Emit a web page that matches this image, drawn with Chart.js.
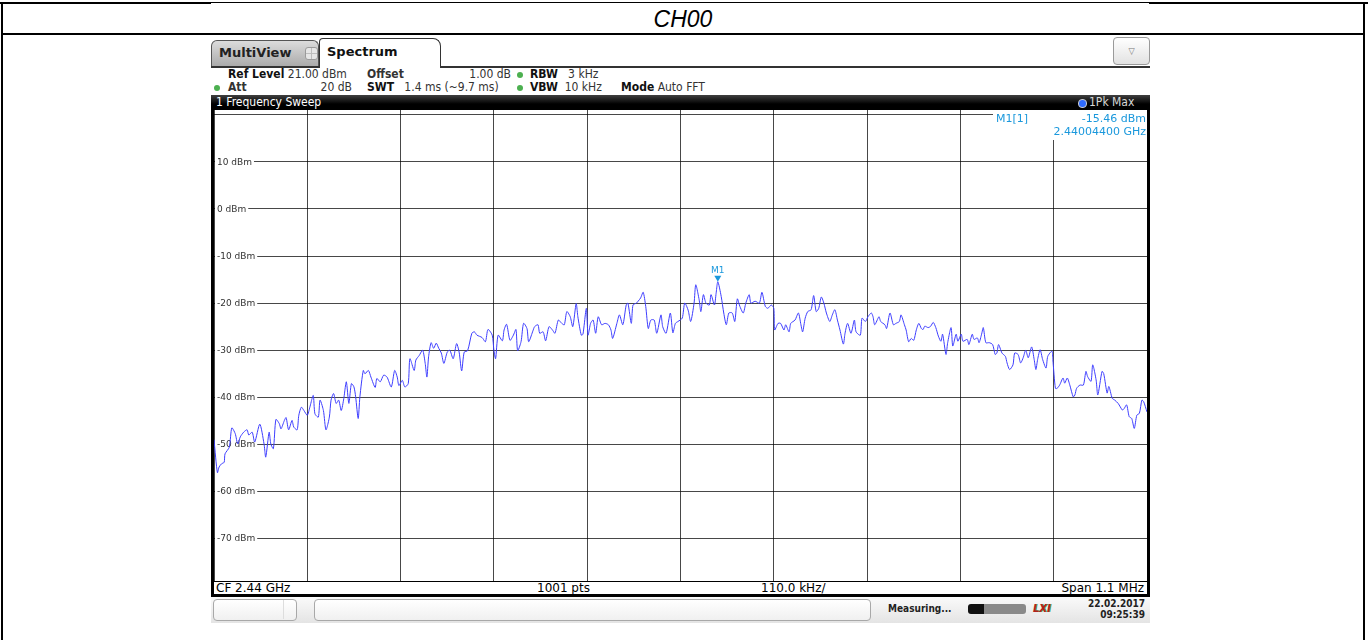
<!DOCTYPE html>
<html>
<head>
<meta charset="utf-8">
<script src="https://cdn.jsdelivr.net/npm/chart.js@4.4.1/dist/chart.umd.min.js"></script>
<style>
  body { margin: 0; background: #fff; }
  #page { position: relative; width: 1368px; height: 640px; overflow: hidden; font-family: 'DejaVu Sans Condensed', 'DejaVu Sans', sans-serif; color: #222; }
  .a { position: absolute; }
  .b { font-weight: bold; }
  .info { font-size: 12px; line-height: 13px; white-space: nowrap; color: #333; }
  .info .b { color: #111; }
  .dot { width: 6px; height: 6px; border-radius: 3px; background: #4cb050; }
  .foot { font-family: 'DejaVu Sans', sans-serif; font-size: 12px; line-height: 14px; color: #000; }
  #chart { position: absolute; left: 0; top: 0; z-index: 2; pointer-events: none; }
</style>
</head>
<body>
<div id="page">
  <!-- table frame round the screenshot -->
  <div class="a" style="left:0;top:2px;width:1368px;height:1px;background:#000"></div>
  <div class="a" style="left:0;top:2px;width:211px;height:2px;background:#000"></div>
  <div class="a" style="left:1149px;top:2px;width:219px;height:2px;background:#000"></div>
  <div class="a" style="left:1px;top:2px;width:2px;height:640px;background:#000"></div>
  <div class="a" style="left:1363px;top:2px;width:2px;height:640px;background:#000"></div>
  <div class="a" style="left:1px;top:33px;width:1364px;height:2px;background:#000"></div>
  <div class="a" style="left:0;top:5px;width:1366px;height:28px;line-height:28px;text-align:center;font-family:'Liberation Sans',Arial,sans-serif;font-style:italic;font-size:23px;color:#000">CH00</div>

  <!-- tabs -->
  <div class="a" style="left:211px;top:40px;width:106px;height:26px;background:linear-gradient(#dcdcdc,#a9a9a9);border:1px solid #555;border-bottom:none;border-radius:6px 6px 0 0"></div>
  <div class="a b" style="left:219px;top:45px;font-family:'DejaVu Sans',sans-serif;font-size:13px;color:#222">MultiView</div>
  <div class="a" style="left:305px;top:47px;width:11px;height:11px;border-radius:3px;background:linear-gradient(90deg,transparent 45%,#bdbdbd 45%,#bdbdbd 55%,transparent 55%),linear-gradient(transparent 45%,#bdbdbd 45%,#bdbdbd 55%,transparent 55%),#e6e6e6;border:1px solid #9a9a9a"></div>
  <div class="a" style="left:319px;top:38px;width:120px;height:29px;background:#fff;border:1px solid #333;border-bottom:none;border-radius:4px 8px 0 0"></div>
  <div class="a b" style="left:327px;top:44px;font-family:'DejaVu Sans',sans-serif;font-size:13px;color:#111">Spectrum</div>
  <div class="a" style="left:211px;top:66px;width:108px;height:2px;background:#333"></div>
  <div class="a" style="left:440px;top:66px;width:710px;height:2px;background:#333"></div>
  <div class="a" style="left:1113px;top:37px;width:35px;height:26px;border:1px solid #9a9a9a;border-radius:4px;background:linear-gradient(#ffffff,#e2e2e2);text-align:center;line-height:26px;font-size:9px;color:#777">&#9661;</div>

  <!-- setting lines -->
  <div class="a info" style="left:228px;top:68px"><span class="b">Ref Level</span> 21.00 dBm</div>
  <div class="a info b" style="left:367px;top:68px">Offset</div>
  <div class="a info" style="left:455px;top:68px;width:56px;text-align:right">1.00 dB</div>
  <div class="a dot" style="left:517px;top:72px"></div>
  <div class="a info" style="left:530px;top:68px"><span class="b">RBW</span>&nbsp;&nbsp;&nbsp;3 kHz</div>
  <div class="a dot" style="left:214px;top:85px"></div>
  <div class="a info b" style="left:228px;top:81px">Att</div>
  <div class="a info" style="left:300px;top:81px;width:52px;text-align:right">20 dB</div>
  <div class="a info" style="left:367px;top:81px"><span class="b">SWT</span>&nbsp;&nbsp;&nbsp;1.4 ms (~9.7 ms)</div>
  <div class="a dot" style="left:517px;top:85px"></div>
  <div class="a info" style="left:530px;top:81px"><span class="b">VBW</span>&nbsp;&nbsp;10 kHz</div>
  <div class="a info" style="left:621px;top:81px"><span class="b">Mode</span> Auto FFT</div>

  <!-- window title bar -->
  <div class="a" style="left:211px;top:95px;width:939px;height:15px;background:linear-gradient(#404040,#000 60%)"></div>
  <div class="a" style="left:216px;top:95px;font-size:12px;line-height:15px;color:#fff">1 Frequency Sweep</div>
  <div class="a" style="left:1078px;top:99px;width:7px;height:7px;border-radius:4px;background:#2f6bff;border:1px solid #ccc"></div>
  <div class="a" style="left:1089px;top:95px;font-size:12px;line-height:15px;color:#d8d8d8">1Pk Max</div>

  <!-- diagram frame -->
  <div class="a" style="left:211px;top:109px;width:3px;height:488px;background:#000"></div>
  <div class="a" style="left:1147px;top:109px;width:3px;height:488px;background:#000"></div>
  <div class="a" style="left:214px;top:581px;width:933px;height:1px;background:#000"></div>
  <div class="a" style="left:211px;top:594px;width:939px;height:3px;background:#000"></div>
  <div id="cfLabel" class="a foot" style="left:216px;top:581px"></div>
  <div id="ptsLabel" class="a foot" style="left:537px;top:581px"></div>
  <div id="divLabel" class="a foot" style="left:761px;top:581px"></div>
  <div id="spanLabel" class="a foot" style="left:1000px;top:581px;width:144px;text-align:right"></div>

  <!-- status bar -->
  <div class="a" style="left:211px;top:597px;width:939px;height:26px;background:linear-gradient(#fafafa,#e4e4e4)"></div>
  <div class="a" style="left:213px;top:599px;width:82px;height:20px;border:1px solid #a8a8a8;border-radius:4px;background:linear-gradient(#fff,#f0f0f0)"></div>
  <div class="a" style="left:283px;top:600px;width:1px;height:19px;background:#ddd"></div>
  <div class="a" style="left:314px;top:599px;width:555px;height:20px;border:1px solid #a8a8a8;border-radius:4px;background:linear-gradient(#fff,#f0f0f0)"></div>
  <div class="a b" style="left:888px;top:603px;font-size:10px;color:#222">Measuring...</div>
  <div class="a" style="left:968px;top:604px;width:58px;height:10px;border-radius:3px;background:linear-gradient(90deg,#111 0,#111 28%,#8a8a8a 28%,#8a8a8a 100%)"></div>
  <div class="a b" style="left:1033px;top:602px;font-size:11px;font-style:italic;color:#b02020;text-shadow:1px 0 #3a9a3a">LXI</div>
  <div class="a b" style="left:1070px;top:598px;width:75px;text-align:right;font-size:10px;line-height:11px;color:#222">22.02.2017<br>09:25:39</div>

  <canvas id="chart" width="1368" height="640"></canvas>
</div>

<script>
// sweep setup
const centerGHz = 2.44;
const spanKHz = 1100;
const sweepPoints = 1001;
const refLevel = 21;
const rangeDb = 100;

// y grid / labels (dBm)
const levelTicks = [20, 10, 0, -10, -20, -30, -40, -50, -60, -70];
const labelledTicks = [10, 0, -10, -20, -30, -40, -50, -60, -70];

// marker
const markerName = 'M1';
const markerOffsetKHz = 44;
const markerLevel = -15.46;

// 1Pk Max trace: offset from CF (kHz) and level (dBm)
const offsetKHz = [
  -550, -546, -544, -541, -538, -537, -532, -529, -525, -522, -519, -515, -511, -509, -505, -502,
  -496, -491, -489, -485, -483, -480, -477, -473, -471, -467, -465, -462, -458, -456, -452, -450,
  -447, -444, -440, -437, -433, -431, -427, -425, -421, -418, -414, -412, -409, -406, -403, -400,
  -397, -394, -391, -388, -385, -383, -380, -378, -374, -372, -368, -365, -360, -358, -354, -350,
  -346, -341, -337, -334, -332, -328, -325, -321, -319, -314, -312, -308, -304, -301, -299, -297,
  -294, -291, -288, -285, -282, -279, -275, -272, -268, -264, -261, -258, -255, -251, -246, -243,
  -240, -234, -230, -227, -222, -220, -218, -215, -210, -208, -205, -201, -197, -194, -192, -188,
  -185, -181, -179, -174, -172, -168, -166, -162, -159, -155, -151, -148, -144, -140, -137, -134,
  -130, -127, -123, -121, -117, -115, -111, -109, -106, -103, -100, -97, -93, -89, -85, -82,
  -80, -75, -72, -68, -64, -62, -58, -56, -52, -50, -47, -44, -41, -38, -35, -31,
  -28, -23, -21, -17, -12, -9, -6, -3, 2, 5, 9, 12, 16, 18, 22, 24,
  27, 30, 34, 36, 40, 42, 44, 48, 51, 54, 57, 61, 64, 67, 70, 74,
  77, 81, 83, 88, 93, 96, 100, 103, 107, 110, 111, 115, 118, 122, 124, 128,
  130, 135, 139, 142, 144, 147, 150, 154, 157, 160, 163, 166, 169, 172, 176, 179,
  182, 185, 188, 192, 194, 197, 201, 205, 207, 212, 214, 218, 221, 225, 227, 229,
  234, 236, 241, 243, 247, 251, 254, 258, 260, 264, 266, 269, 272, 275, 278, 281,
  284, 286, 288, 292, 295, 298, 301, 304, 307, 309, 313, 315, 319, 321, 325, 327,
  331, 333, 338, 340, 344, 346, 350, 352, 355, 357, 360, 364, 368, 371, 373, 375,
  379, 383, 385, 388, 392, 394, 398, 401, 404, 407, 410, 414, 417, 419, 421, 424,
  427, 431, 433, 438, 439, 442, 444, 447, 451, 453, 456, 459, 463, 465, 467, 471,
  475, 478, 480, 484, 486, 490, 492, 497, 499, 503, 505, 509, 512, 516, 521, 523,
  526, 529, 532, 535, 538, 541, 544, 546, 550
];
const levelDbm = [
  -49, -56, -54.8, -54.1, -53.8, -52, -50.6, -46.5, -47.7, -49.9, -48.4, -47.4, -46.9, -48, -47.4, -49.5,
  -45.7, -49.9, -52.7, -47.4, -49.9, -50.9, -44.7, -45.6, -46.7, -44.9, -44.3, -46.9, -44.9, -46.3, -46.9, -43.8,
  -42.1, -42.8, -43.8, -42.1, -39.6, -43.5, -44.2, -40.6, -42.8, -46.9, -44.2, -40.6, -39.2, -41.3, -40.6, -42.8,
  -40.3, -36.7, -41.3, -37.1, -37.8, -39.9, -44.5, -39.9, -34.3, -35, -34.3, -35.7, -37.9, -36, -36.7, -35.3,
  -35.7, -37.8, -34.3, -35.7, -37.5, -36.4, -37.8, -37.1, -31.8, -34.3, -32.1, -31.1, -30, -32.8, -35.7, -31.4,
  -28.4, -29.6, -28.5, -29.6, -30.6, -32.8, -30.4, -30, -31.8, -28.6, -30.4, -34.4, -30.4, -30.1, -26.4, -26.1,
  -26.8, -27.3, -28.2, -25.6, -26.8, -30, -31.8, -26.8, -28, -25.7, -24.5, -27.9, -26.8, -25.6, -30.1, -28.2,
  -24.3, -25.4, -28.2, -25.9, -25, -24.6, -26.4, -26.1, -28, -25, -25.7, -26.4, -23.6, -24.3, -24.6, -21.8,
  -22.9, -25, -20.1, -22.9, -26.8, -26.6, -21.1, -26.8, -24.3, -23.6, -26.4, -22.9, -24.6, -24.3, -24.6, -25.7,
  -27.5, -24.3, -22.5, -24.6, -20.4, -20, -24.3, -20.4, -20, -19.6, -18.9, -17.7, -20.7, -25.4, -23.6, -23.6,
  -26.4, -22.5, -25, -26.4, -22.1, -26.3, -24.3, -23.9, -23.2, -20, -21.5, -23.9, -20, -16.1, -19.3, -21.8,
  -18.2, -20, -20.4, -18.2, -20.4, -17.9, -15.46, -18.6, -22.1, -24.6, -22.1, -22.1, -23.9, -19.1, -20.7, -22.1,
  -20, -18.2, -20, -19.6, -20, -17.7, -20.7, -21.1, -20.4, -21.1, -25.7, -24.3, -24.3, -25.7, -24.6, -26.1,
  -24.3, -23.6, -22.1, -24.6, -26.1, -23.2, -21.8, -21.4, -18.4, -21.8, -21.1, -18.7, -20, -22.1, -23.9, -22.5,
  -21.4, -23.6, -25.7, -28.7, -26.4, -24.3, -26.4, -23.6, -26.1, -26.8, -23.2, -23.9, -22.9, -22.1, -22.9, -24.6,
  -22.9, -23.9, -24.6, -25.4, -22.1, -24.6, -24.3, -23.9, -22.5, -24.6, -25.7, -28.2, -27.5, -27.9, -25.7, -24.3,
  -25.4, -25.6, -24.9, -25.2, -24.9, -24.1, -25.2, -27, -28.1, -26.6, -30.9, -28.4, -25.2, -29.1, -26.6, -28.1,
  -26.6, -28.1, -27.7, -28.8, -26.6, -27.7, -27.4, -28.4, -26.6, -25.2, -28.4, -28.4, -28.8, -30.9, -30.6, -28.8,
  -30.6, -31.3, -32.7, -34.1, -33.1, -30.6, -30.9, -32.7, -31.6, -30, -31.6, -29.3, -32, -34.1, -32, -29.9,
  -32, -33.8, -31.3, -30.2, -32, -38.1, -38.1, -37.4, -35.9, -37, -35.9, -37.4, -39.9, -39.5, -38.1, -37.4,
  -37.4, -34.5, -35.6, -36.6, -33.1, -36.3, -39.5, -34.5, -35, -39.1, -37.7, -40.2, -40.6, -41.3, -42.7, -42.4,
  -41.6, -44.1, -44.5, -46.6, -43.8, -43.4, -40.6, -40.9, -43.1
];

const half = spanKHz / 2;
const points = offsetKHz.map((f, i) => ({ x: f, y: levelDbm[i] }));
const freqTicks = [];
for (let f = -half; f <= half + 0.01; f += spanKHz / 10) freqTicks.push(f);

// footer texts
document.getElementById('cfLabel').textContent = 'CF ' + centerGHz + ' GHz';
document.getElementById('ptsLabel').textContent = sweepPoints + ' pts';
document.getElementById('divLabel').textContent = (spanKHz / 10).toFixed(1) + ' kHz/';
document.getElementById('spanLabel').textContent = 'Span ' + (spanKHz / 1000) + ' MHz';

const MARK = '#1a98dc';

const decor = {
  id: 'decor',
  beforeDatasetsDraw(chart) {
    const { ctx, chartArea: a, scales } = chart;
    ctx.save();
    ctx.font = '9px "DejaVu Sans", sans-serif';
    ctx.textBaseline = 'middle';
    labelledTicks.forEach(v => {
      const y = scales.y.getPixelForValue(v);
      const t = v + ' dBm';
      const w = ctx.measureText(t).width;
      ctx.fillStyle = '#fff';
      ctx.fillRect(a.left + 1, y - 5, w + 4, 10);
      ctx.fillStyle = '#333';
      ctx.fillText(t, a.left + 3, y + 0.5);
    });
    // marker info field
    ctx.fillStyle = '#fff';
    ctx.fillRect(a.right - 154, a.top, 154, 30);
    ctx.fillStyle = MARK;
    ctx.font = '11px "DejaVu Sans", sans-serif';
    ctx.textBaseline = 'alphabetic';
    ctx.textAlign = 'left';
    ctx.fillText(markerName + '[1]', a.right - 151, a.top + 12);
    ctx.textAlign = 'right';
    ctx.fillText(markerLevel.toFixed(2) + ' dBm', a.right - 1, a.top + 12);
    const mf = centerGHz + markerOffsetKHz / 1e6;
    ctx.fillText(mf.toFixed(8) + ' GHz', a.right - 1, a.top + 25);
    ctx.restore();
  },
  afterDatasetsDraw(chart) {
    const { ctx, scales } = chart;
    const x = scales.x.getPixelForValue(markerOffsetKHz);
    const y = scales.y.getPixelForValue(markerLevel);
    ctx.save();
    ctx.fillStyle = MARK;
    ctx.beginPath();
    ctx.moveTo(x - 3.5, y - 6);
    ctx.lineTo(x + 3.5, y - 6);
    ctx.lineTo(x, y);
    ctx.closePath();
    ctx.fill();
    ctx.font = '9px "DejaVu Sans", sans-serif';
    ctx.textAlign = 'center';
    ctx.fillText(markerName, x, y - 9);
    ctx.restore();
  }
};

new Chart(document.getElementById('chart'), {
  type: 'line',
  data: {
    datasets: [{
      data: points,
      borderColor: '#3d3dff',
      borderWidth: 1,
      pointRadius: 0,
      tension: 0.25,
      fill: false
    }]
  },
  options: {
    responsive: false,
    animation: false,
    events: [],
    layout: { padding: { left: 214, right: 221, top: 110, bottom: 59 } },
    plugins: { legend: { display: false }, tooltip: { enabled: false } },
    scales: {
      x: {
        type: 'linear', min: -half, max: half,
        afterBuildTicks: s => { s.ticks = freqTicks.map(v => ({ value: v })); },
        ticks: { display: false },
        grid: { color: 'rgba(0,0,0,0.72)', lineWidth: 1, drawTicks: false },
        border: { display: false }
      },
      y: {
        min: refLevel - rangeDb, max: refLevel,
        afterBuildTicks: s => { s.ticks = levelTicks.map(v => ({ value: v })); },
        ticks: { display: false },
        grid: { color: 'rgba(0,0,0,0.72)', lineWidth: 1, drawTicks: false },
        border: { display: false }
      }
    }
  },
  plugins: [decor]
});
</script>
</body>
</html>
